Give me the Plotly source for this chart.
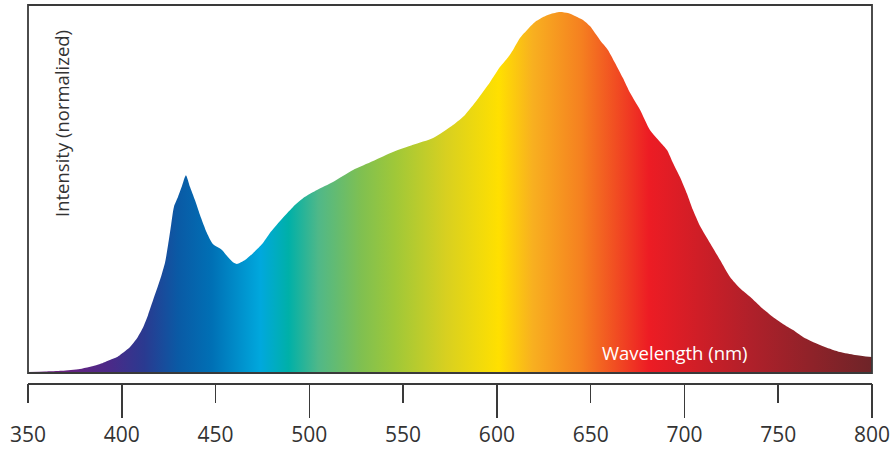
import plotly.graph_objects as go

wavelength = [350.0, 359.1, 368.1, 377.7, 388.4, 393.7, 397.5, 401.2, 404.4, 408.2,
              411.4, 414.0, 416.7, 420.4, 423.1, 424.7, 426.3, 427.8, 430.0, 432.1,
              434.2, 436.4, 439.0, 441.7, 445.4, 448.6, 453.4, 456.6, 459.3, 461.4,
              465.7, 470.0, 474.8, 479.0, 484.4, 491.3, 497.7, 504.1, 512.6, 523.3,
              534.0, 544.6, 555.3, 566.0, 576.6, 583.0, 589.4, 596.4, 601.7, 606.0,
              608.6, 612.3, 616.1, 620.3, 624.6, 628.3, 633.6, 637.9, 641.6, 645.9,
              649.6, 655.0, 659.2, 663.0, 667.2, 671.0, 676.3, 681.6, 687.0, 690.7,
              693.9, 697.6, 701.4, 704.5, 708.3, 713.6, 719.0, 724.3, 729.6, 735.0,
              741.3, 747.2, 752.5, 757.9, 763.2, 768.5, 774.9, 782.9, 790.9, 800.0]
intensity = [0.003, 0.004, 0.006, 0.011, 0.025, 0.036, 0.044, 0.058, 0.072, 0.097,
             0.127, 0.161, 0.202, 0.258, 0.307, 0.355, 0.410, 0.460, 0.488, 0.518,
             0.548, 0.515, 0.479, 0.438, 0.388, 0.357, 0.341, 0.321, 0.307, 0.302,
             0.313, 0.332, 0.357, 0.388, 0.421, 0.460, 0.488, 0.507, 0.529, 0.562,
             0.587, 0.612, 0.632, 0.651, 0.687, 0.715, 0.756, 0.806, 0.848, 0.875,
             0.895, 0.928, 0.950, 0.972, 0.986, 0.994, 1.000, 0.997, 0.989, 0.978,
             0.961, 0.922, 0.895, 0.859, 0.817, 0.776, 0.729, 0.673, 0.640, 0.618,
             0.582, 0.543, 0.496, 0.452, 0.407, 0.360, 0.313, 0.266, 0.235, 0.211,
             0.180, 0.155, 0.136, 0.119, 0.100, 0.086, 0.072, 0.058, 0.050, 0.044]

tick_values = [350, 400, 450, 500, 550, 600, 650, 700, 750, 800]
tick_labels = ["350", "400", "450", "500", "550", "600", "650", "700", "750", "800"]
long_ticks = [400, 500, 600, 700, 800]

grad_nm = [350, 368, 394, 412, 430, 448, 474, 489, 505, 528, 546, 573, 601, 619, 645, 681, 735, 800]
grad_colors = ["#6b1d7f", "#6a2080", "#4a2a88", "#2a3a90", "#0a5aa5", "#0070b5", "#00a8dd",
               "#00b0a8", "#50b888", "#80c050", "#a0c838", "#d8d020", "#ffe000", "#f8b020",
               "#f58020", "#ed1c24", "#b0202a", "#6e2428"]

xmin, xmax = 350, 800
colorscale = [[(n - xmin) / (xmax - xmin), c] for n, c in zip(grad_nm, grad_colors)]

W, H = 894, 449
ml, mr, mt, mb = 28, 22, 5, 66
plot_h = H - mt - mb
base_px = 373 - mt          # pixel row of zero intensity inside plot
peak_px = 12 - mt
unit = base_px - peak_px
y_lo = -(plot_h - base_px) / unit
y_hi = base_px / unit

fig = go.Figure()
fig.add_trace(go.Scatter(
    x=wavelength, y=intensity, mode="lines",
    line=dict(width=0, color="rgba(0,0,0,0)", shape="spline", smoothing=0.6),
    fill="tozeroy", fillgradient=dict(type="horizontal", colorscale=colorscale),
    hoverinfo="skip", showlegend=False))
# helper invisible traces so overlay axes are drawn
fig.add_trace(go.Scatter(x=[xmin, xmax], y=[None, None], xaxis="x2", showlegend=False, hoverinfo="skip"))
fig.add_trace(go.Scatter(x=[xmin, xmax], y=[None, None], xaxis="x3", showlegend=False, hoverinfo="skip"))

axis_color = "#3a3a3a"
font_family = "Open Sans, Noto Sans, sans-serif"

fig.update_layout(
    width=W, height=H,
    margin=dict(l=ml, r=mr, t=mt, b=mb, autoexpand=False),
    paper_bgcolor="white", plot_bgcolor="white",
    xaxis=dict(range=[xmin, xmax], tickvals=tick_values, ticktext=tick_labels,
               ticks="outside", ticklen=32, tickcolor="rgba(0,0,0,0)", automargin=False,
               showline=True, linecolor=axis_color, linewidth=1.5,
               showgrid=False, zeroline=False,
               tickfont=dict(family=font_family, size=21, color="#333333")),
    xaxis2=dict(range=[xmin, xmax], overlaying="x", anchor="y", side="bottom", automargin=False,
                tickvals=tick_values, ticks="outside", ticklen=19, tickwidth=1.5,
                tickcolor=axis_color, showticklabels=False, showgrid=False, zeroline=False),
    xaxis3=dict(range=[xmin, xmax], overlaying="x", anchor="y", side="bottom", automargin=False,
                tickvals=long_ticks, ticks="outside", ticklen=34, tickwidth=1.5,
                tickcolor=axis_color, showticklabels=False, showgrid=False, zeroline=False),
    yaxis=dict(range=[y_lo, y_hi], visible=False, showgrid=False, zeroline=False, automargin=False),
    shapes=[dict(type="rect", xref="paper", x0=0, x1=1, yref="paper",
                 y0=(plot_h - base_px) / plot_h, y1=1,
                 line=dict(color=axis_color, width=1.8), fillcolor="rgba(0,0,0,0)", layer="above")],
    annotations=[
        dict(text="Intensity (normalized)", xref="paper", yref="paper",
             x=(61 - ml) / (W - ml - mr), y=1 - (124 - mt) / plot_h, textangle=-90,
             xanchor="center", yanchor="middle",
             showarrow=False, font=dict(family=font_family, size=18.5, color="#333333")),
        dict(text="Wavelength (nm)", xref="paper", yref="paper",
             x=(675 - ml) / (W - ml - mr), y=1 - (352 - mt) / plot_h,
             xanchor="center", yanchor="middle",
             showarrow=False, font=dict(family=font_family, size=18.5, color="white")),
    ],
)

fig.write_html("out.html", config={"displayModeBar": False, "staticPlot": True},
               post_script="document.body.style.margin='0';document.body.style.padding='0';"
                           "document.documentElement.style.overflow='hidden';")
